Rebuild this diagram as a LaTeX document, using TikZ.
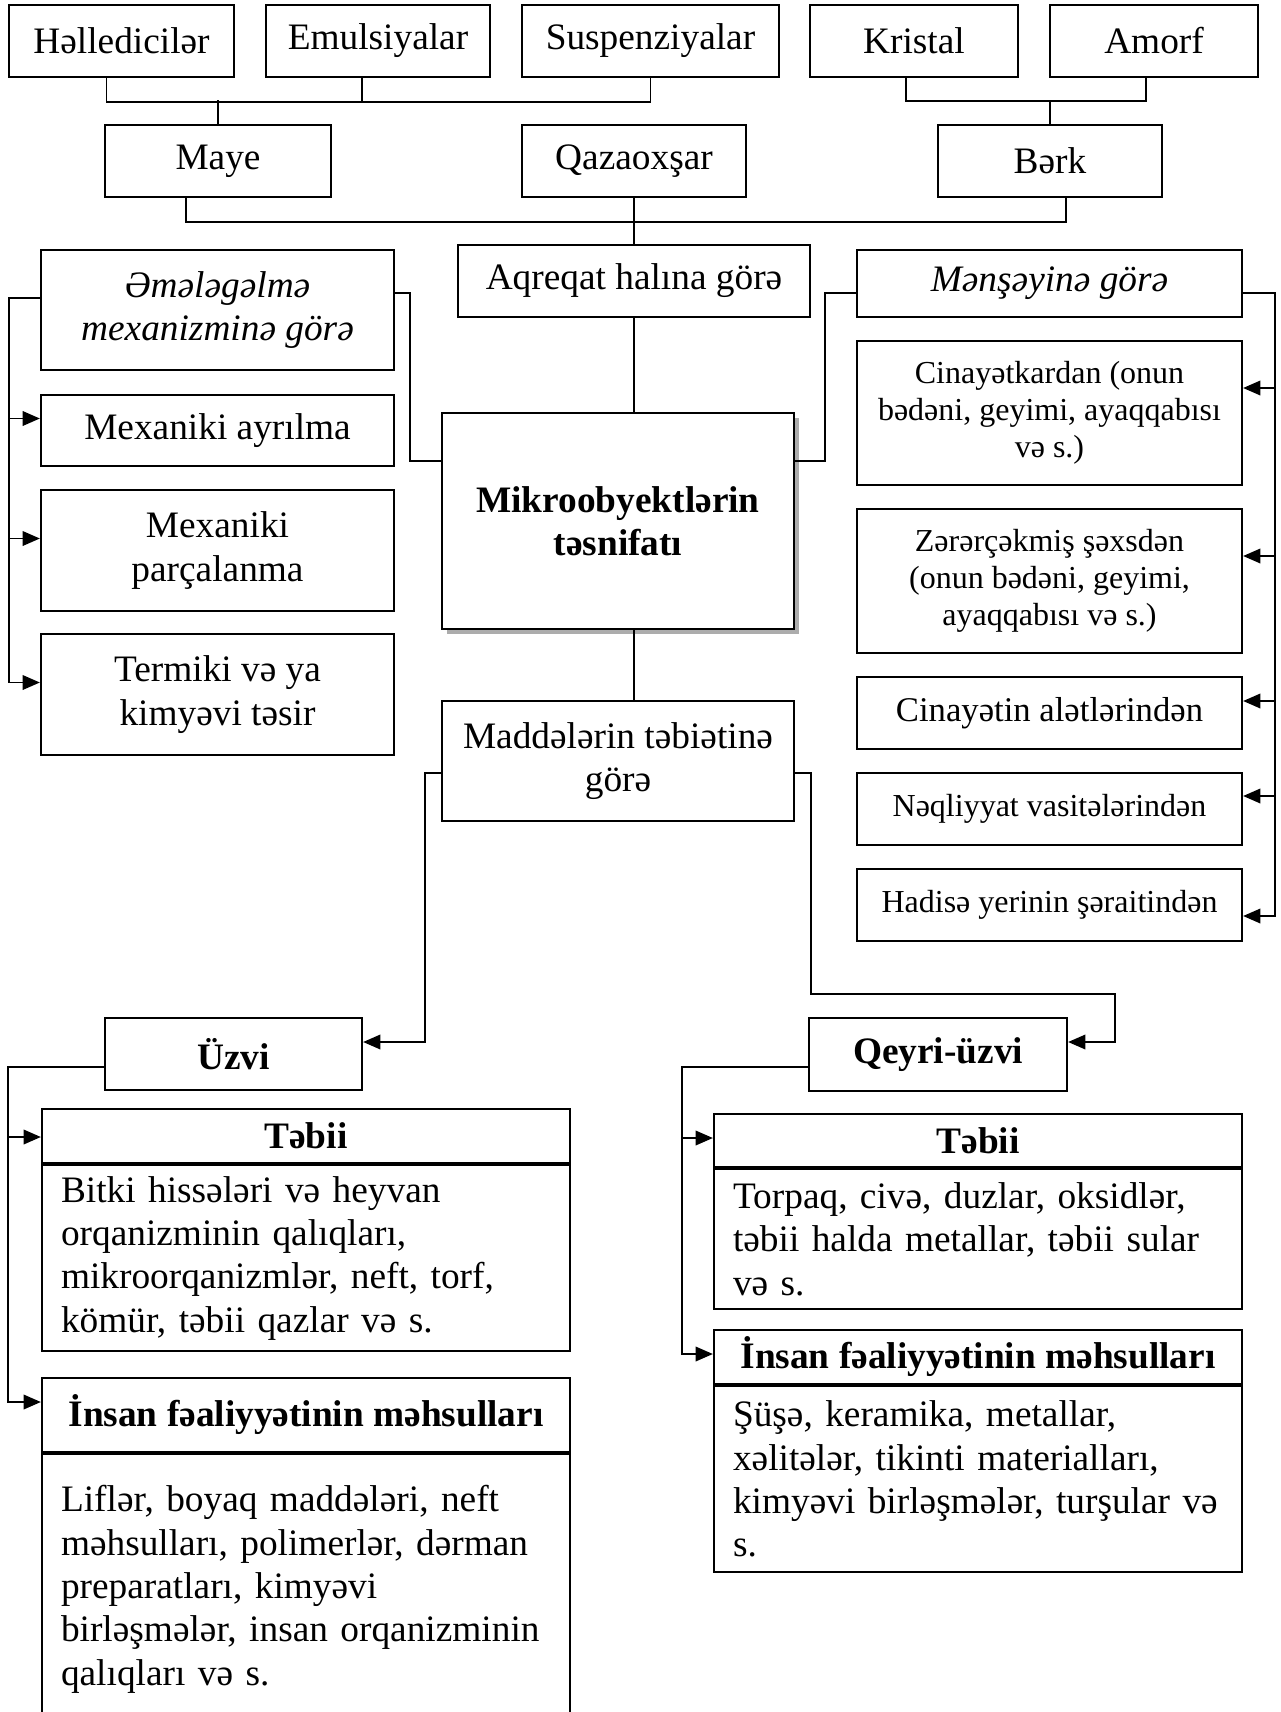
\documentclass[tikz,border=0pt]{standalone}
\usepackage{fontspec}
\setmainfont{Liberation Serif}
\usetikzlibrary{calc,arrows.meta,shadows}

\tikzset{
  box/.style={draw,line width=0.85pt,fill=white,align=center,inner sep=0pt,
    font=\fontsize{14}{16.25}\selectfont},
  wh/.style 2 args={minimum width=#1*0.375pt,minimum height=#2*0.375pt},
  small/.style={font=\fontsize{12}{13.9}\selectfont},
  ital/.style={font=\fontsize{14}{16.25}\selectfont\itshape},
  bf/.style={font=\fontsize{14}{16.25}\selectfont\bfseries},
  body/.style={box,anchor=north,align=left,text width=183.75pt,inner xsep=7.125pt},
  link/.style={line width=0.65pt},
}

\begin{document}
\begin{tikzpicture}[x=0.375pt,y=-0.375pt,>={Triangle[length=6.5pt,width=5.5pt]}]
  \useasboundingbox (0,0) rectangle (1280,1712);
  \clip (0,0) rectangle (1280,1712);
  % top row
  \node[box,wh={225}{72}] (hell) at (121.5,41) {Həlledicilər};
  \node[box,wh={224}{72}] (emul) at (378,41) {Emulsiyalar};
  \node[box,wh={257}{72}] (susp) at (650.5,41) {Suspenziyalar};
  \node[box,wh={208}{72}] (krist) at (914,41) {Kristal};
  \node[box,wh={208}{72}] (amorf) at (1154,41) {Amorf};
  \node[box,wh={226}{72}] (maye) at (218,161) {Maye};
  \node[box,wh={224}{72}] (qaz) at (634,161) {Qazaoxşar};
  \node[box,wh={224}{72}] (berk) at (1050,161) {Bərk};
  \node[box,ital,wh={353}{120}] (emel) at (217.5,310) {Əmələgəlmə\\mexanizminə görə};
  \node[box,wh={352}{72}] (aqr) at (634,281) {Aqreqat halına görə};
  \node[box,ital,wh={385}{67}] (mens) at (1049.5,283.5) {Mənşəyinə görə};
  % left column
  \node[box,wh={353}{71}] (ayr) at (217.5,430.5) {Mexaniki ayrılma};
  \node[box,wh={353}{121}] (parc) at (217.5,550.5) {Mexaniki\\parçalanma};
  \node[box,wh={353}{121}] (term) at (217.5,694.5) {Termiki və ya\\kimyəvi təsir};
  % centre
  \node[box,bf,wh={352}{216},drop shadow={shadow xshift=1.9pt,shadow yshift=-1.9pt,fill=gray!65,opacity=1}] (cent) at (618,521) {Mikroobyektlərin\\təsnifatı};
  \node[box,wh={352}{120}] (madd) at (618,761) {Maddələrin təbiətinə\\görə};
  % right column
  \node[box,small,wh={385}{144}] (cin) at (1049.5,413) {Cinayətkardan (onun\\bədəni, geyimi, ayaqqabısı\\və s.)};
  \node[box,small,wh={385}{144}] (zer) at (1049.5,581) {Zərərçəkmiş şəxsdən\\(onun bədəni, geyimi,\\ayaqqabısı və s.)};
  \node[box,font=\fontsize{13}{15}\selectfont,wh={385}{72}] (alet) at (1049.5,713) {Cinayətin alətlərindən};
  \node[box,small,wh={385}{72}] (naql) at (1049.5,809) {Nəqliyyat vasitələrindən};
  \node[box,small,wh={385}{72}] (hadis) at (1049.5,905) {Hadisə yerinin şəraitindən};
  % bottom
  \node[box,bf,wh={257}{72}] (uzvi) at (233.5,1054) {Üzvi};
  \node[box,bf,wh={258}{73}] (qeyri) at (938,1054.5) {Qeyri-üzvi};
  \node[box,bf,wh={528}{54}] (tebA) at (306,1136) {Təbii};
  \node[body,wh={528}{186}] (tebAb) at (tebA.south) {Bitki hissələri və heyvan\\orqanizminin qalıqları,\\mikroorqanizmlər, neft, torf,\\kömür, təbii qazlar və s.};
  \node[box,bf,wh={528}{74}] (insA) at (306,1415) {İnsan fəaliyyətinin məhsulları};
  \node[body,wh={528}{270}] (insAb) at (insA.south) {Liflər, boyaq maddələri, neft\\məhsulları, polimerlər, dərman\\preparatları, kimyəvi\\birləşmələr, insan orqanizminin\\qalıqları və s.};
  \node[box,bf,wh={528}{53}] (tebB) at (978,1140.5) {Təbii};
  \node[body,wh={528}{140}] (tebBb) at (tebB.south) {Torpaq, civə, duzlar, oksidlər,\\təbii halda metallar, təbii sular\\və s.};
  \node[box,bf,wh={528}{54}] (insB) at (978,1357) {İnsan fəaliyyətinin məhsulları};
  \node[body,wh={528}{186}] (insBb) at (insB.south) {Şüşə, keramika, metallar,\\xəlitələr, tikinti materialları,\\kimyəvi birləşmələr, turşular və\\s.};
  % connectors
  \draw[link] (hell.south) ++(-15,0) -- ++(0,24) -| (susp.south);
  \draw[link] (emul.south) ++(-16,0) -- ++(0,24);
  \draw[link] (maye.north) -- ++(0,-24);
  \draw[link] (krist.south) ++(-8,0) -- ++(0,23) -| ($(amorf.south)+(-8,0)$);
  \draw[link] (berk.north) -- ++(0,-24);
  \draw[link] (maye.south) ++(-32,0) -- ++(0,24) -| ($(berk.south)+(16,0)$);
  \draw[link] (qaz.south) -- (aqr.north);
  \draw[link] (aqr.south) -- (aqr.south |- cent.north);
  \draw[link] (cent.south -| aqr.south) -- (madd.north -| aqr.south);
  \draw[link] ($(emel.east)+(0,-17)$) -- ++(15,0) |- ($(cent.west)+(0,-60)$);
  \draw[link] ($(mens.west)+(0,9.5)$) -- ++(-31,0) |- ($(cent.east)+(0,-60)$);
  \draw[link,->] ($(emel.west)+(0,-12)$) -- ++(-31,0) |- ($(term.west)+(0,-12)$);
  \foreach \b in {ayr,parc}
    \draw[link,->] ($(\b.west)+(-31,-12)$) -- ($(\b.west)+(0,-12)$);
  \draw[link,->] ($(mens.east)+(0,9.5)$) -- ++(32,0) |- ($(hadis.east)+(0,11)$);
  \foreach \b/\d in {cin/-25,zer/-25,alet/-12,naql/-13}
    \draw[link,->] ($(\b.east)+(32,\d)$) -- ($(\b.east)+(0,\d)$);
  \draw[link,->] ($(madd.west)+(0,12)$) -- ++(-16,0) |- ($(uzvi.east)+(0,-12)$);
  \draw[link,->] ($(madd.east)+(0,12)$) -- ++(16,0) |- ++(304,221) |- ($(qeyri.east)+(0,-12.5)$);
  \draw[link,->] ($(uzvi.west)+(0,13)$) -- ++(-96,0) |- ($(insA.west)+(0,-13)$);
  \draw[link,->] ($(tebA.west)+(-33,1)$) -- ($(tebA.west)+(0,1)$);
  \draw[link,->] ($(qeyri.west)+(0,12.5)$) -- ++(-126,0) |- ($(insB.west)+(0,-3)$);
  \draw[link,->] ($(tebB.west)+(-31,-2.5)$) -- ($(tebB.west)+(0,-2.5)$);
\end{tikzpicture}
\end{document}
